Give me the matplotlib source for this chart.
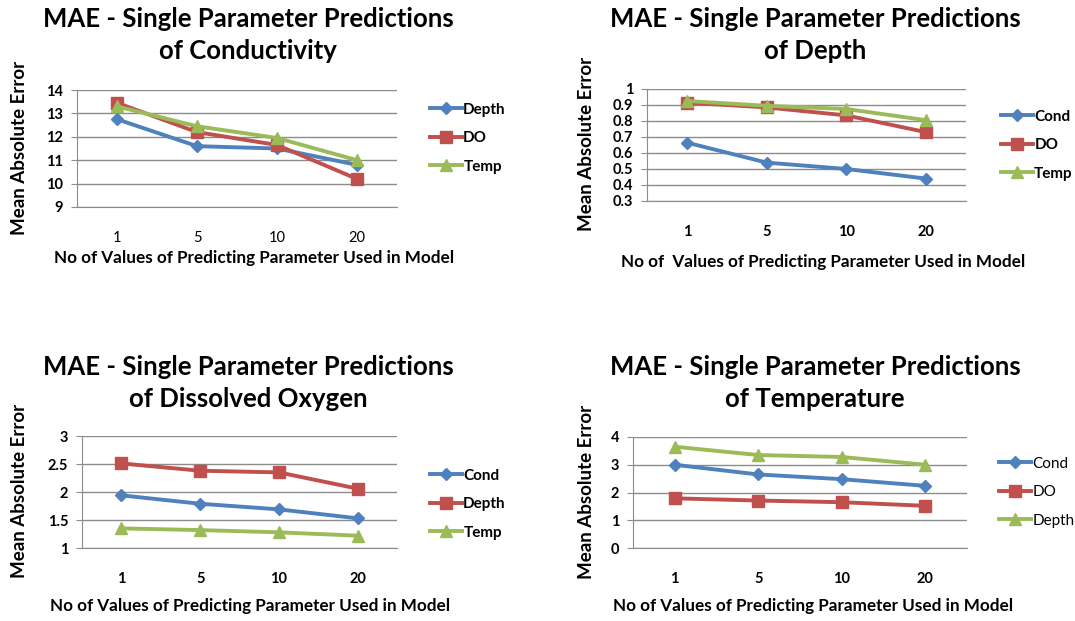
import matplotlib
matplotlib.use("Agg")
import matplotlib.pyplot as plt

plt.rcParams['font.family'] = ['Lato', 'DejaVu Sans']

W, H = 1075, 621

BLUE = '#4F81BD'
RED = '#C0504D'
GREEN = '#9BBB59'
GRID = '#8C8C8C'

xcats = ['1', '5', '10', '20']

# conductivity predictions
cond_depth = [12.75, 11.6, 11.5, 10.8]
cond_do = [13.45, 12.2, 11.65, 10.2]
cond_temp = [13.3, 12.45, 11.95, 11.0]

# depth predictions
depth_cond = [0.665, 0.54, 0.50, 0.44]
depth_do = [0.915, 0.885, 0.835, 0.73]
depth_temp = [0.925, 0.895, 0.875, 0.805]

# dissolved oxygen predictions
do_cond = [1.94, 1.79, 1.69, 1.53]
do_depth = [2.51, 2.38, 2.35, 2.06]
do_temp = [1.35, 1.32, 1.28, 1.22]

# temperature predictions
temp_cond = [3.0, 2.65, 2.48, 2.24]
temp_do = [1.79, 1.71, 1.65, 1.52]
temp_depth = [3.65, 3.35, 3.28, 3.0]

fig = plt.figure(figsize=(W / 100, H / 100), dpi=100)


def px_axes(x0, y0, x1, y1):
    # pixel box (top-left origin) -> figure fraction
    return fig.add_axes([x0 / W, 1 - y1 / H, (x1 - x0) / W, (y1 - y0) / H])


def panel(box, title, tcx, ty, series, ylim, yticks, ylab_x, xlab, xlab_y,
          leg_xy, xtick_bold=True, leg_bold=True):
    ax = px_axes(*box)
    xs = range(len(xcats))
    for vals, name, col, mk, ms in series:
        ax.plot(xs, vals, color=col, lw=2.8, marker=mk, ms=ms,
                mec=col, mfc=col, label=name, zorder=3)
    ax.set_xlim(-0.5, 3.5)
    ax.set_ylim(*ylim)
    ax.set_yticks(yticks)
    ax.set_yticklabels(['%g' % v for v in yticks], fontsize=10.5,
                       fontweight='bold')
    ax.set_xticks(list(xs))
    ax.set_xticklabels(xcats, fontsize=10.5,
                       fontweight='bold' if xtick_bold else 'normal')
    ax.tick_params(axis='x', length=0, pad=17)
    ax.tick_params(axis='y', length=4, color=GRID, pad=6)
    ax.grid(axis='y', color=GRID, lw=1)
    for s in ['top', 'right']:
        ax.spines[s].set_visible(False)
    for s in ['left', 'bottom']:
        ax.spines[s].set_color(GRID)
    ax.set_axisbelow(True)

    cy = (box[1] + box[3]) / 2
    fig.text(ylab_x / W, 1 - (cy - 1) / H, 'Mean Absolute Error', rotation=90,
             ha='center', va='center', fontsize=13.5, fontweight='bold')
    fig.text(tcx / W, 1 - ty / H, title, ha='center', va='center',
             fontsize=18.5, fontweight='bold', linespacing=1.4)
    fig.text(xlab[0] / W, 1 - xlab_y / H, xlab[1],
             ha='center', va='center', fontsize=12.3, fontweight='bold')
    ax.legend(loc='upper left', bbox_to_anchor=(leg_xy[0] / W, 1 - leg_xy[1] / H),
              bbox_transform=fig.transFigure, frameon=False, handlelength=2.1,
              handletextpad=0.1, labelspacing=0.95, borderpad=0,
              prop={'size': 11, 'weight': 'bold' if leg_bold else 'normal'})
    return ax


XLAB = 'No of Values of Predicting Parameter Used in Model'
XLAB2 = 'No of  Values of Predicting Parameter Used in Model'

panel((77, 90, 397, 207), 'MAE - Single Parameter Predictions\nof Conductivity',
      248, 35,
      [(cond_depth, 'Depth', BLUE, 'D', 6), (cond_do, 'DO', RED, 's', 8),
       (cond_temp, 'Temp', GREEN, '^', 8)],
      (9, 14), [9, 10, 11, 12, 13, 14], 20, (254, XLAB), 258, (422, 95),
      xtick_bold=False)

panel((647, 89, 966, 201), 'MAE - Single Parameter Predictions\nof Depth',
      815, 35,
      [(depth_cond, 'Cond', BLUE, 'D', 6), (depth_do, 'DO', RED, 's', 8),
       (depth_temp, 'Temp', GREEN, '^', 8)],
      (0.3, 1.0), [0.3, 0.4, 0.5, 0.6, 0.7, 0.8, 0.9, 1.0], 587,
      (823, XLAB2), 262, (993, 102))

panel((82, 436, 397, 548), 'MAE - Single Parameter Predictions\nof Dissolved Oxygen',
      248, 383,
      [(do_cond, 'Cond', BLUE, 'D', 6), (do_depth, 'Depth', RED, 's', 8),
       (do_temp, 'Temp', GREEN, '^', 8)],
      (1, 3), [1, 1.5, 2, 2.5, 3], 20, (250, XLAB), 606, (422, 461))

panel((633, 437, 967, 548), 'MAE - Single Parameter Predictions\nof Temperature',
      815, 383,
      [(temp_cond, 'Cond', BLUE, 'D', 6), (temp_do, 'DO', RED, 's', 8),
       (temp_depth, 'Depth', GREEN, '^', 8)],
      (0, 4), [0, 1, 2, 3, 4], 587, (813, XLAB), 606, (991, 449),
      leg_bold=False)

fig.savefig('out.png', dpi=100)
